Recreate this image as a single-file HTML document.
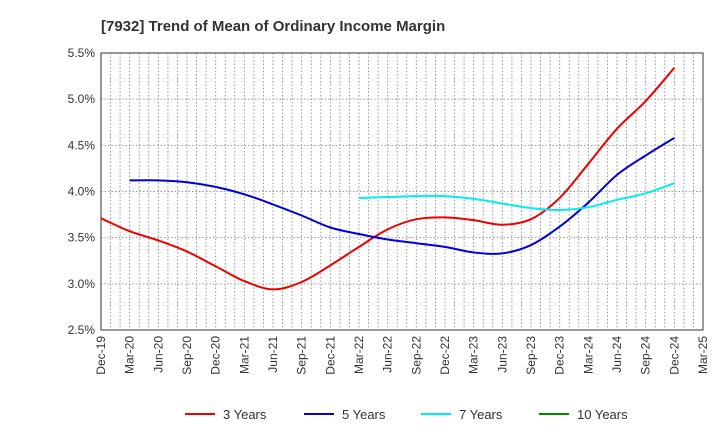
<!DOCTYPE html>
<html><head><meta charset="utf-8"><style>
body{margin:0;background:#fff;font-family:"Liberation Sans",sans-serif}
</style></head><body>
<svg id="chart" width="720" height="440" xmlns="http://www.w3.org/2000/svg" font-family="Liberation Sans, sans-serif">
<text x="101" y="31" font-size="15" font-weight="bold" fill="#333">[7932]  Trend of Mean of Ordinary Income Margin</text>
<g id="grid"></g><g id="axes"></g><g id="series"></g><g id="legend"></g>
</svg>
<script>
const xLabels=["Dec-19","Mar-20","Jun-20","Sep-20","Dec-20","Mar-21","Jun-21","Sep-21","Dec-21","Mar-22","Jun-22","Sep-22","Dec-22","Mar-23","Jun-23","Sep-23","Dec-23","Mar-24","Jun-24","Sep-24","Dec-24","Mar-25"];
const yTicks=[2.5,3.0,3.5,4.0,4.5,5.0,5.5];
const y3=[3.71,3.57,3.47,3.35,3.19,3.03,2.94,3.02,3.20,3.40,3.59,3.70,3.72,3.69,3.64,3.70,3.93,4.30,4.68,4.98,5.34];
const y5=[null,4.12,4.12,4.10,4.05,3.97,3.86,3.74,3.61,3.54,3.48,3.44,3.40,3.34,3.33,3.42,3.62,3.88,4.18,4.39,4.58];
const y7=[null,null,null,null,null,null,null,null,null,3.93,3.94,3.95,3.95,3.92,3.87,3.82,3.80,3.83,3.91,3.98,4.09];
const y10=[];
const seriesNames=["3 Years","5 Years","7 Years","10 Years"];
const colors=["#ee0000","#0000dd","#00eeee","#008800"];
const L=101,R=703,T=53,B=330;
const xs=i=>L+(R-L)*i/21;
const ys=v=>B-(v-2.5)/3*(B-T);
const NS="http://www.w3.org/2000/svg";
function mk(p,t,a){const e=document.createElementNS(NS,t);for(const k in a)e.setAttribute(k,a[k]);p.appendChild(e);return e;}
const grid=document.getElementById('grid'),axes=document.getElementById('axes'),ser=document.getElementById('series'),leg=document.getElementById('legend');
for(let m=1;m<63;m++){const x=L+(R-L)*m/63;
const g=mk(grid,'line',{x1:x,x2:x,y1:T,y2:B,stroke:'#999','stroke-dasharray':'1.5,2','stroke-width':1});

}
yTicks.forEach(v=>{const y=ys(v);
const g=mk(grid,'line',{x1:L,x2:R,y1:y,y2:y,stroke:'#999','stroke-dasharray':'1.5,2'});


const t=mk(axes,'text',{x:L-6,y:y+4,'text-anchor':'end','font-size':12,fill:'#333'});t.textContent=v.toFixed(1)+'%';

});
const fr=mk(axes,'rect',{x:L,y:T,width:R-L,height:B-T,fill:'none',stroke:'#333','stroke-width':1});


xLabels.forEach((l,i)=>{const x=xs(i);
const t=mk(axes,'text',{transform:`translate(${x+4},${B+6}) rotate(-90)`,'text-anchor':'end','font-size':12,fill:'#333'});t.textContent=l;

});
function path(arr){const p=[];arr.forEach((v,i)=>{if(v!=null)p.push([xs(i),ys(v)]);});if(p.length<2)return'';
let d=`M${p[0][0]},${p[0][1]}`;
for(let i=0;i<p.length-1;i++){const p0=p[i-1]||p[i],p1=p[i],p2=p[i+1],p3=p[i+2]||p2;
d+=` C${p1[0]+(p2[0]-p0[0])/6},${p1[1]+(p2[1]-p0[1])/6} ${p2[0]-(p3[0]-p1[0])/6},${p2[1]-(p3[1]-p1[1])/6} ${p2[0]},${p2[1]}`;}
return d;}
[y3,y5,y7,y10].forEach((a,k)=>{const d=path(a);if(!d)return;
const e=mk(ser,'path',{d:d,fill:'none',stroke:colors[k],'stroke-width':2});

});
const lx=[185,304,421,539];
seriesNames.forEach((n,k)=>{const g=mk(leg,'g',{});


mk(g,'line',{x1:lx[k],x2:lx[k]+30,y1:414,y2:414,stroke:colors[k],'stroke-width':2});
const t=mk(g,'text',{x:lx[k]+38,y:419,'font-size':13,fill:'#333'});t.textContent=n;});
</script>
</body></html>
